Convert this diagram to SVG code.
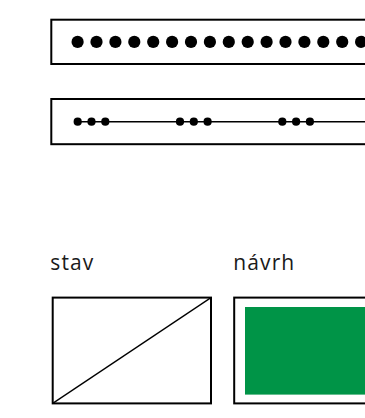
<svg xmlns="http://www.w3.org/2000/svg" width="365" height="418" viewBox="0 0 365 418">
<style>
.box{fill:#fff;stroke:#000;stroke-width:2}
.lbl{font-family:"Open Sans","Noto Sans",sans-serif;font-size:21px;fill:#1a1a1a;letter-spacing:1.1px}
.big{fill:#000}
.small{fill:#000}
</style>
<rect width="365" height="418" fill="#fff"/>
<g id="legend-dots">
<rect class="box" x="51.3" y="19.7" width="330" height="44.3"/>
<g class="big">
<circle cx="77.6" cy="41.9" r="6.1"/><circle cx="96.5" cy="41.9" r="6.1"/><circle cx="115.4" cy="41.9" r="6.1"/><circle cx="134.3" cy="41.9" r="6.1"/>
<circle cx="153.2" cy="41.9" r="6.1"/><circle cx="172.1" cy="41.9" r="6.1"/><circle cx="191" cy="41.9" r="6.1"/><circle cx="209.9" cy="41.9" r="6.1"/>
<circle cx="228.8" cy="41.9" r="6.1"/><circle cx="247.7" cy="41.9" r="6.1"/><circle cx="266.6" cy="41.9" r="6.1"/><circle cx="285.5" cy="41.9" r="6.1"/>
<circle cx="304.4" cy="41.9" r="6.1"/><circle cx="323.3" cy="41.9" r="6.1"/><circle cx="342.2" cy="41.9" r="6.1"/><circle cx="361.1" cy="41.9" r="6.1"/>
</g>
</g>
<g id="legend-line">
<rect class="box" x="51.3" y="99" width="330" height="45.2"/>
<line x1="77.7" y1="121.7" x2="370" y2="121.7" stroke="#000" stroke-width="1.5"/>
<g class="small">
<circle cx="77.7" cy="121.7" r="4.1"/><circle cx="91.5" cy="121.7" r="4.1"/><circle cx="105.3" cy="121.7" r="4.1"/>
<circle cx="180" cy="121.7" r="4.1"/><circle cx="193.8" cy="121.7" r="4.1"/><circle cx="207.6" cy="121.7" r="4.1"/>
<circle cx="282.3" cy="121.7" r="4.1"/><circle cx="296.1" cy="121.7" r="4.1"/><circle cx="309.9" cy="121.7" r="4.1"/>
</g>
</g>
<g id="stav">
<text class="lbl" x="50.3" y="269.5">stav</text>
<rect class="box" x="52.7" y="297.6" width="158.3" height="105.8"/>
<line x1="52.7" y1="403.4" x2="211" y2="297.6" stroke="#000" stroke-width="1.3"/>
</g>
<g id="navrh">
<text class="lbl" x="233.3" y="269.5">návrh</text>
<rect class="box" x="234.2" y="297.6" width="150" height="105.8"/>
<rect x="245" y="307" width="130" height="87.6" fill="#009447"/>
</g>
</svg>
